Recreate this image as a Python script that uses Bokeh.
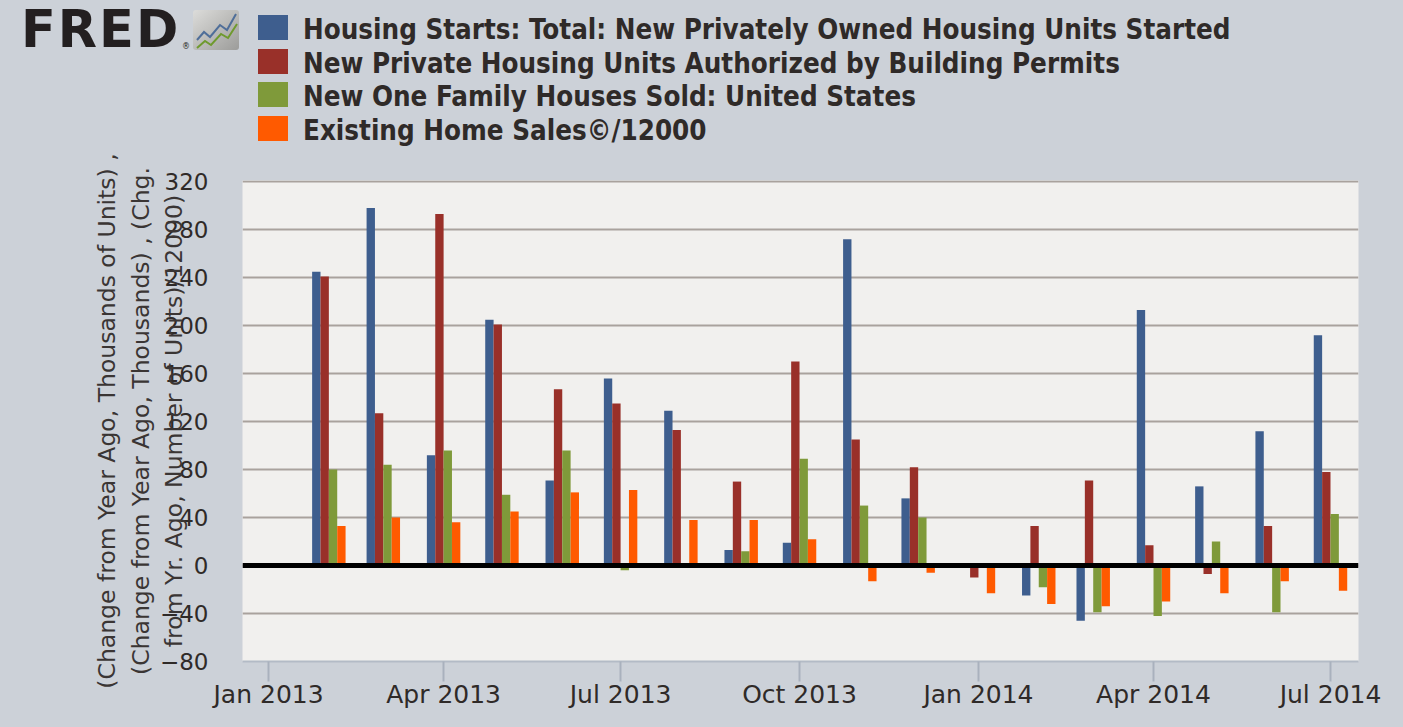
import pandas as pd
from bokeh.plotting import figure
from bokeh.layouts import column
from bokeh.models import (ColumnDataSource, Range1d, FixedTicker, DatetimeTickFormatter,
                          Span, Div)
from bokeh.transform import dodge
from bokeh.embed import file_html
from bokeh.resources import INLINE

# monthly year-over-year changes
months = ["2013-02-01", "2013-03-01", "2013-04-01", "2013-05-01", "2013-06-01", "2013-07-01",
          "2013-08-01", "2013-09-01", "2013-10-01", "2013-11-01", "2013-12-01", "2014-01-01",
          "2014-02-01", "2014-03-01", "2014-04-01", "2014-05-01", "2014-06-01", "2014-07-01"]
starts = [245, 298, 92, 205, 71, 156, 129, 13, 19, 272, 56, 0, -25, -46, 213, 66, 112, 192]
permits = [241, 127, 293, 201, 147, 135, 113, 70, 170, 105, 82, -10, 33, 71, 17, -7, 33, 78]
new_sales = [80, 84, 96, 59, 96, -4, 0, 12, 89, 50, 40, 0, -18, -39, -42, 20, -39, 43]
existing_sales = [33, 40, 36, 45, 61, 63, 38, 38, 22, -13, -6, -23, -32, -34, -30, -23, -13, -21]

series_keys = ["starts", "permits", "new_sales", "existing_sales"]
series_names = ["Housing Starts: Total: New Privately Owned Housing Units Started",
                "New Private Housing Units Authorized by Building Permits",
                "New One Family Houses Sold: United States",
                "Existing Home Sales\u00a9/12000"]
series_colors = ["#3E5E8E", "#993029", "#7F9A3A", "#FF5A00"]

y_ticks = [-80, -40, 0, 40, 80, 120, 160, 200, 240, 280, 320]
x_tick_dates = ["2013-01-01", "2013-04-01", "2013-07-01", "2013-10-01",
                "2014-01-01", "2014-04-01", "2014-07-01"]

y_label = ("(Change from Year Ago, Thousands of Units) ,\n"
           "(Change from Year Ago, Thousands) , (Chg.\n"
           "from Yr. Ago, Number of Units)/12000)")

DAY = 86400000
bar_w = 4.3 * DAY
text_col = "#2F2A28"
bg = "#CCD1D8"
W = 1403
TOP_H = 150

# --- header strip: FRED logo and legend (plain html) ---
rows = []
for i, (name, color) in enumerate(zip(series_names, series_colors)):
    base = 39 + i * 33.5
    rows.append(
        f'<div style="position:absolute;left:258px;top:{base - 24:.1f}px;width:30px;height:25px;'
        f'background:{color};"></div>'
        f'<div style="position:absolute;left:303px;top:{base - 26:.1f}px;white-space:nowrap;'
        f'font-family:\'DejaVu Sans Condensed\';font-weight:bold;font-size:27.5px;'
        f'line-height:33px;color:{text_col};">{name}</div>'
    )

icon_svg = (
    '<svg width="46" height="40" style="position:absolute;left:193px;top:10px;">'
    '<defs><linearGradient id="g" x1="0" y1="0" x2="1" y2="1">'
    '<stop offset="0" stop-color="#DCDCDA"/><stop offset="1" stop-color="#9C9C9A"/>'
    '</linearGradient></defs>'
    '<rect x="0" y="0" width="46" height="40" rx="3" fill="url(#g)"/>'
    '<polyline points="4,30 11,22 17,27 27,15 34,20 43,4" fill="none" '
    'stroke="#4F6E99" stroke-width="2"/>'
    '<polyline points="4,38 12,31 18,35 28,24 35,28 44,14" fill="none" '
    'stroke="#6F9A2E" stroke-width="2"/>'
    '</svg>'
)

header_html = (
    f'<div style="position:relative;width:{W}px;height:{TOP_H}px;background:{bg};overflow:hidden;">'
    '<div style="position:absolute;left:21px;top:4px;font-family:\'DejaVu Sans\';font-weight:bold;'
    'font-size:51px;line-height:51px;letter-spacing:2px;color:#231F20;">FRED</div>'
    '<div style="position:absolute;left:182px;top:43px;font-family:\'DejaVu Sans\';'
    'font-size:8px;line-height:8px;color:#231F20;">\u00ae</div>'
    + icon_svg + "".join(rows) +
    '</div>'
)
header = Div(text=header_html, width=W, height=TOP_H, margin=(0, 0, 0, 0))

# --- main chart ---
src = ColumnDataSource(data=dict(date=pd.to_datetime(months), starts=starts, permits=permits,
                                 new_sales=new_sales, existing_sales=existing_sales))

x0 = pd.Timestamp("2013-01-01") - pd.Timedelta(days=13.4)
x1 = pd.Timestamp("2014-07-01") + pd.Timedelta(days=14.4)

p = figure(width=W, height=727 - TOP_H, x_axis_type="datetime",
           x_range=Range1d(x0, x1), y_range=Range1d(-80, 321),
           output_backend="svg", toolbar_location=None, tools="",
           min_border_left=242, min_border_right=45, min_border_top=180 - TOP_H,
           min_border_bottom=66)
p.border_fill_color = bg
p.background_fill_color = "#F1F0EE"
p.outline_line_color = None

for i, (key, color) in enumerate(zip(series_keys, series_colors)):
    p.vbar(x=dodge("date", (i - 1.5) * bar_w), top=key, bottom=0, width=bar_w,
           source=src, fill_color=color, line_color=None)

p.add_layout(Span(location=0, dimension="width", line_color="black", line_width=5))

p.xaxis.ticker = FixedTicker(ticks=[pd.Timestamp(d).value / 1e6 for d in x_tick_dates])
p.xaxis.formatter = DatetimeTickFormatter(days="%b %Y", months="%b %Y", years="%b %Y")
p.xaxis.major_tick_out = 20
p.xaxis.major_tick_in = 0
p.xaxis.minor_tick_line_color = None
p.xaxis.major_tick_line_color = "#A9B1BD"
p.xaxis.major_tick_line_width = 2
p.xaxis.axis_line_color = "#B3BBC6"
p.xaxis.axis_line_width = 2
p.xaxis.major_label_standoff = -2
p.xaxis.major_label_text_font = "DejaVu Sans"
p.xaxis.major_label_text_font_size = "25px"
p.xaxis.major_label_text_color = text_col

p.yaxis.ticker = FixedTicker(ticks=y_ticks)
p.yaxis.axis_line_color = None
p.yaxis.major_tick_line_color = None
p.yaxis.minor_tick_line_color = None
p.yaxis.major_tick_out = 0
p.yaxis.major_label_standoff = 34
p.yaxis.major_label_text_font = "DejaVu Sans"
p.yaxis.major_label_text_font_size = "23px"
p.yaxis.major_label_text_color = text_col
p.yaxis.axis_label = y_label
p.yaxis.axis_label_text_font = "DejaVu Sans"
p.yaxis.axis_label_text_font_style = "normal"
p.yaxis.axis_label_text_font_size = "23.5px"
p.yaxis.axis_label_text_line_height = 1.19
p.yaxis.axis_label_text_color = "#3A3534"
p.yaxis.axis_label_standoff = -31

p.xgrid.visible = False
p.ygrid.ticker = FixedTicker(ticks=y_ticks)
p.ygrid.grid_line_color = "#A9A29D"
p.ygrid.grid_line_width = 2

layout = column(header, p, spacing=0, styles={"background-color": bg})
open("out.html", "w").write(file_html(layout, INLINE))
